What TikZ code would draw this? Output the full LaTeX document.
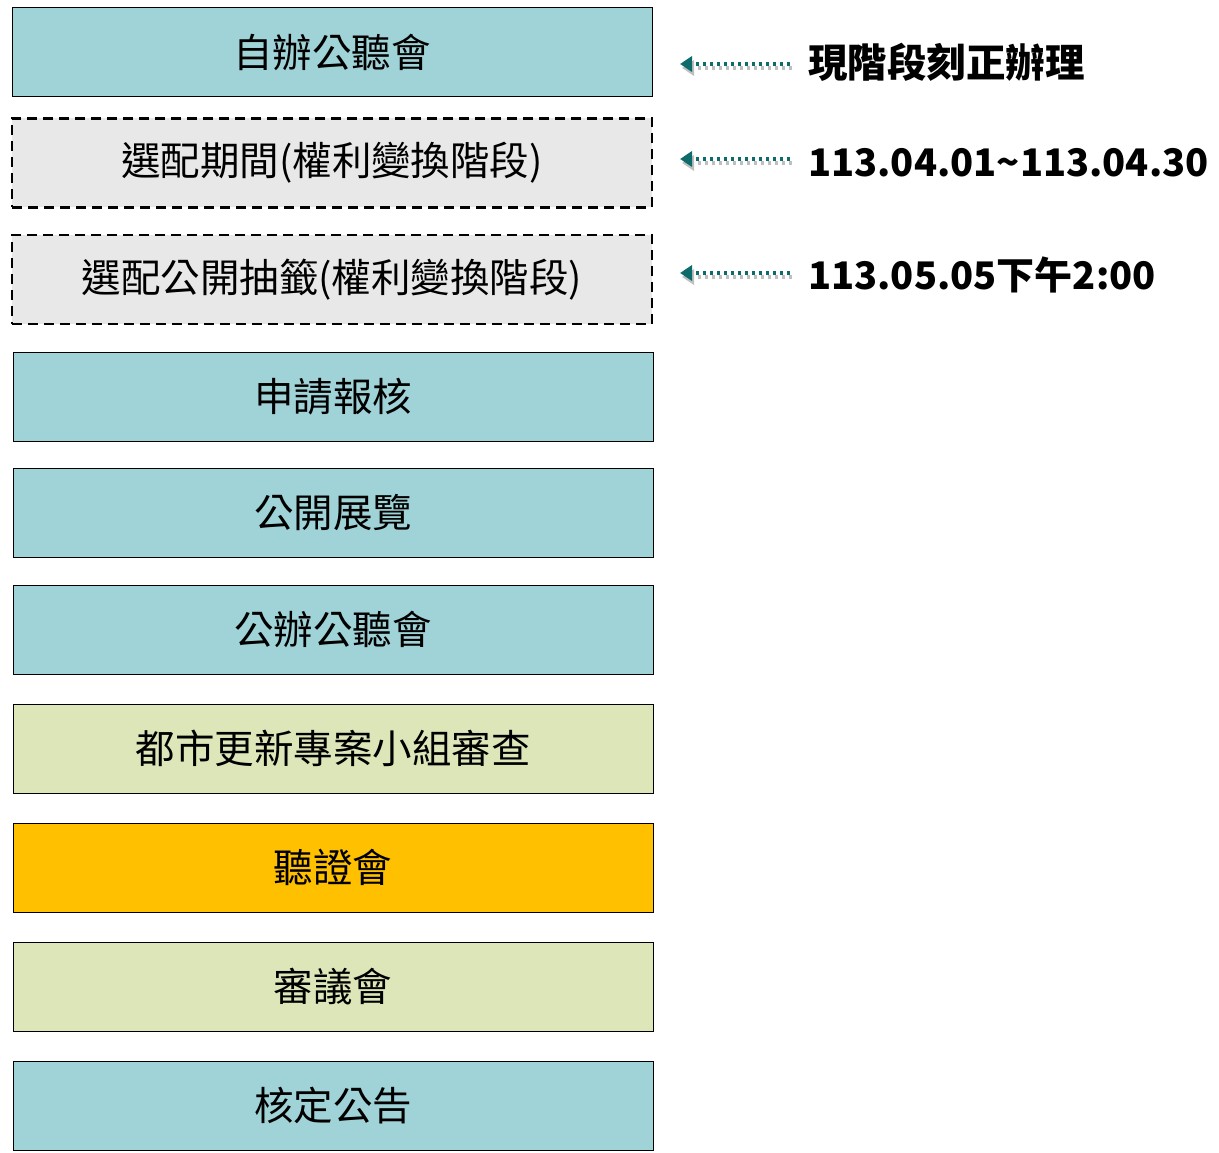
\documentclass[tikz,border=0pt]{standalone}
\usepackage{fontspec}
\setmainfont{Noto Sans CJK TC}
\usetikzlibrary{arrows.meta}
\definecolor{tealbox}{HTML}{A0D3D7}
\definecolor{graybox}{HTML}{E8E8E8}
\definecolor{greenbox}{HTML}{DCE6B8}
\definecolor{orangebox}{HTML}{FFC000}
\definecolor{arrowteal}{HTML}{0E6B6B}
\definecolor{shadowgray}{HTML}{BFBFBF}
\tikzset{
  stepbox/.style={draw=black, line width=1pt, minimum width=640pt, minimum height=89pt, inner sep=0pt, font=\fontsize{39.5}{42}\selectfont, text=black},
  dashbox/.style={stepbox, line width=2.2pt, dash pattern=on 10pt off 6pt, fill=graybox},
  notearrow/.style={-{Triangle[length=12pt,width=15pt]}, arrowteal, line width=3.5pt, dash pattern=on 3.5pt off 3.5pt},
  shadowarrow/.style={-{Triangle[length=12pt,width=15pt]}, shadowgray, line width=3.5pt, dash pattern=on 3.5pt off 3.5pt},
  notetext/.style={anchor=west, inner sep=0pt, font=\bfseries\fontsize{39.5}{42}\selectfont},
  datetext/.style={notetext, font=\bfseries\fontsize{38}{42}\selectfont},
}
\begin{document}
\begin{tikzpicture}[x=1pt,y=-1pt]
\useasboundingbox (0,0) rectangle (1219,1153);
\node[stepbox, fill=tealbox] (b1) at (332,52.5) {自辦公聽會};
\node[dashbox] (b2) at (332,163) {選配期間(權利變換階段)};
\node[dashbox] (b3) at (332,279.5) {選配公開抽籤(權利變換階段)};
\node[stepbox, fill=tealbox] (b4) at (333,396.5) {申請報核};
\node[stepbox, fill=tealbox] (b5) at (333,512.5) {公開展覽};
\node[stepbox, fill=tealbox] (b6) at (333,629.5) {公辦公聽會};
\node[stepbox, fill=greenbox] (b7) at (333,748.5) {都市更新專案小組審查};
\node[stepbox, fill=orangebox] (b8) at (333,867.5) {聽證會};
\node[stepbox, fill=greenbox] (b9) at (333,986.5) {審議會};
\node[stepbox, fill=tealbox] (b10) at (333,1105.5) {核定公告};

\node[notetext] (t1) at (808,62) {現階段刻正辦理};
\node[datetext] (t2) at (808,163) {113.04.01\textasciitilde 113.04.30};
\node[datetext] (t3) at (808,275) {113.05.05下午2:00};

\coordinate (s1) at (790,64); \coordinate (e1) at (680,64);
\coordinate (s2) at (790,159); \coordinate (e2) at (680,159);
\coordinate (s3) at (790,273); \coordinate (e3) at (680,273);
\foreach \s/\e in {s1/e1,s2/e2,s3/e3}{
  \draw[shadowarrow] ([shift={(2,4)}]\s) -- ([shift={(2,4)}]\e);
  \draw[notearrow] (\s) -- (\e);
}
\end{tikzpicture}
\end{document}
